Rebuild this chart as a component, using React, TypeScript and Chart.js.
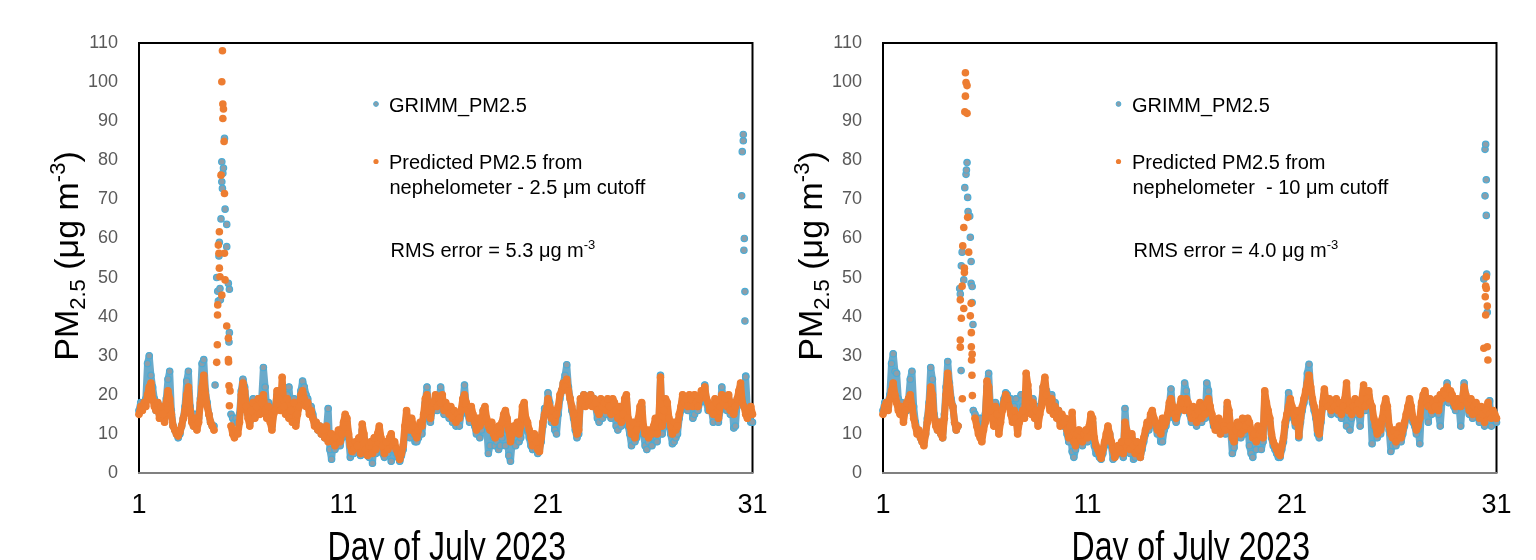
import React, { useEffect, useRef } from 'react';
import { Chart, registerables } from 'chart.js';

Chart.register(...registerables);

const FONT = '"Liberation Sans", Arial, sans-serif';

// ---- axes ----
const xTickValues = [1, 11, 21, 31];
const yTickStep = 10;
const yMax = 110;
// 2-hourly sampling times (day of July), day 1.0 .. 31.0
const sampleDays = Array.from({ length: 361 }, (_, i) => 1 + i / 12);

// ---- GRIMM PM2.5, left panel (2-hourly, null = plume window, see extras) ----
const grimmLeft: (number | null)[] = [
  16, 18, 17, 18, 19, 28, 30, 25, 22, 19, 16, 18,
  15, 17, 16, 14, 19, 24, 26, 16, 12, 11, 10, 9,
  10, 12, 14, 17, 23.5, 26, 17, 14, 12, 15, 12, 14,
  19, 28, 29, 21, 18, 15, 13, 12, 12, null, null, null,
  null, null, null, null, null, null, 15, 14, 13, 14, 13, 15,
  21, 24, 22, 18, 15, 13, 17, 19, 15, 18, 19, 16,
  19, 27, 22, 16, 18, 14, 12, 16, 17, 20, 21, 18,
  20, 18, 16, 20, 22, 17, 14, 19, 13, 16, 18, 21,
  23.5, 22, 20, 19, 16, 17, 15, 13, 12, 11, 12, 10,
  10, 9, 11, 16.5, 6, 3.5, 8, 6, 8, 10, 7, 9,
  12, 14, 13, 9, 4, 5, 5, 7, 6, 8, 4.5, 11,
  9, 5, 6, 4, 7, 2.5, 8, 5, 9, 11, 8, 5,
  4, 7, 5, 8, 3, 6, 7, 5, 4, 3, 4.5, 6,
  10, 14, 12, 9, 12, 10, 8, 8, 9, 11, 10, 14,
  18, 22, 15, 13, 16, 17, 19, 16, 18, 22, 19, 15,
  17, 16, 14, 16, 13, 15, 12, 14, 12, 15, 18, 22.5,
  17, 15, 13, 16, 14, 12, 10, 13, 9, 11, 16, 15,
  12, 5, 7, 11, 9, 7, 8, 6, 7, 9, 12, 7,
  11, 4.5, 3, 8, 10, 7, 11, 8, 9, 13, 16, 12,
  11, 9, 7, 6, 8, 6, 5, 6, 8, 12, 16.5, 15,
  20.5, 18, 13, 15, 11, 10, 15, 19, 21, 23, 25, 27.7,
  22, 19, 16, 14, 11, 9, 10, 18, 19, 20, 18, 19,
  19, 20, 18, 19, 17, 14, 13, 17, 14, 16, 15, 18,
  16, 14, 18, 17, 12, 11, 16, 12, 13, 18, 19, 12,
  10, 7, 11, 8, 9, 12, 16, 17, 10, 7, 6, 8,
  9, 7, 10, 12, 8, 11, 25, 10, 14, 18, 17, 12,
  10, 7.5, 8, 9, 10, 14, 16, 19, 17, 18, 16, 19,
  17, 14, 15, 17, 16, 18, 20, 19, 22.5, 18, 16, 17,
  16, 13, 18, 17, 13, 16, 22, 18, 18, 16, 19, 15,
  17, 11.5, 12, 18, 20, 22, 19, 17, 24.6, 16, 14, 13,
  13,
];
const grimmLeftExtraDays = [4.72, 4.80, 4.85, 4.88, 4.91, 4.93, 4.96, 4.98, 5.01, 5.05, 5.05, 5.08, 5.10, 5.13, 5.18, 5.21, 5.29, 5.29, 5.37, 5.40, 5.42, 5.42, 30.47, 30.50, 30.55, 30.55, 30.58, 30.60, 30.63, 30.63, 30.67];
const grimmLeftExtraValues = [22.5, 50, 46.5, 44, 55.5, 59, 47.2, 44.3, 65, 79.6, 74.5, 72.8, 76.7, 78, 85.6, 67.5, 63.6, 57.9, 48.5, 33.5, 47, 35.9, 70.9, 82.2, 86.6, 85, 57, 60, 46.4, 38.9, 24.8];

// ---- Predicted PM2.5, 2.5 um cutoff (left panel) ----
const predLeft: (number | null)[] = [
  15, 17, 16, 18, 17, 20, 22, 23, 19, 17, 16, 18,
  14, 17, 15, 13, 18, 21, 19, 15, 12, 11, 10, 9.5,
  10.5, 12, 14, 16, 20, 22, 16, 13, 12, 14, 11, 13,
  18, 22, 25, 20, 17, 15, 13, 12, 11, null, null, null,
  null, null, null, null, null, null, 12, 10, 9, 11, 10, 13,
  20, 23, 21, 17, 14, 12, 16, 18, 14, 17, 19, 15,
  18, 20, 16, 14, 17, 13, 11, 15, 16, 21, 19, 16,
  24.5, 17, 15, 19, 14, 16, 13, 18, 12, 15, 17, 20,
  21, 19, 17, 18, 15, 16, 14, 12, 13, 11, 12, 10,
  11, 9, 12, 8, 9, 10, 8, 7, 9, 11, 8, 10,
  13, 15, 14, 10, 7, 5.5, 6, 8, 7, 9, 5, 12.5,
  10, 6, 4.5, 7, 8, 5, 9, 6, 10, 12, 9, 7,
  5, 8, 6, 9, 10, 7, 8, 6, 5, 3.5, 5, 7,
  12, 16, 13, 11, 14, 12, 10, 9, 11, 13, 12, 15,
  19, 20, 16, 14, 17, 18, 20, 17, 19, 18, 20, 16,
  18, 17, 15, 17, 14, 16, 13, 15, 14, 16, 19, 20,
  18, 16, 14, 17, 15, 13, 11, 14, 12, 13, 16, 17,
  14, 12, 11, 13, 10, 9, 11, 12, 10, 13, 15, 16,
  14, 11, 8, 10, 12, 11, 13, 10, 12, 17, 18, 14,
  13, 11, 9, 7, 10, 8, 6, 5.5, 9, 13, 15, 16,
  19, 17, 14, 16, 13, 15, 17, 20, 21, 23, 22, 24,
  21, 19, 17, 15, 12, 10, 11, 19, 18, 20, 17, 19,
  18, 20, 17, 19, 18, 16, 15, 19, 17, 18, 16, 19,
  17, 15, 19, 18, 16, 14, 17, 13, 15, 19, 20, 14,
  12, 10, 13, 9, 11, 14, 17, 18, 12, 10, 11, 9,
  11, 10, 12, 14, 10, 13, 24.5, 12, 16, 19, 18, 14,
  12, 10, 13, 11, 12, 15, 17, 20, 18, 19, 17, 20,
  19, 17, 20, 18, 17, 19, 21, 20, 22, 19, 18, 16,
  17, 15, 19, 18, 14, 17, 20, 18, 19, 17, 20, 16,
  18, 15, 17, 19, 21, 23, 18, 17, 15, 14, 16, 17,
  15,
];
const predLeftExtraDays = [4.80, 4.83, 4.84, 4.85, 4.88, 4.91, 4.93, 4.93, 4.96, 5.01, 5.05, 5.05, 5.08, 5.10, 5.10, 5.13, 5.16, 5.18, 5.18, 5.21, 5.29, 5.37, 5.37, 5.38, 5.40, 5.42, 5.45];
const predLeftExtraValues = [28.3, 32.8, 40.4, 43, 58.3, 56.2, 61.7, 52.4, 50.2, 76.2, 100.1, 45.5, 108, 94.4, 90.7, 93.1, 84.8, 71.5, 56.2, 49.4, 37.6, 34.5, 29, 28.4, 22.3, 17.2, 21];

// ---- GRIMM PM2.5, right panel ----
const grimmRight: (number | null)[] = [
  16, 18, 17, 18, 20, 28, 30.5, 26, 25.5, 19, 16, 18,
  15, 17, 16, 19, 24, 26, 17, 13, 11, 10, 9, 8,
  8, 10, 14, 18, 27, 24, 15, 13, 11, 13, 10, 9,
  15, 22, 28.5, 23, 19, 17, 13, 11, 12, null, null, null,
  null, null, null, null, null, 16, 15, 13, 12, 14, 10, 12,
  15, 22, 25.5, 17, 15, 13, 18, 16, 11, 14, 17, 19,
  20.5, 20, 18, 19, 15, 17, 19, 12, 14, 20, 17, 15,
  20, 21, 18, 16, 19, 15, 17, 13, 16, 18, 22, 20,
  21, 19, 18, 20, 16, 18, 15, 16, 13, 14, 12, 13,
  10, 8, 11, 5.5, 4, 6, 9, 10, 8, 7, 9, 10,
  8, 11, 14, 13, 7, 5, 5, 4, 3.5, 5, 7, 9,
  11, 10, 7, 3.5, 4, 5, 6, 5, 7, 4, 16.5, 10,
  7, 5, 9, 3.5, 4, 7, 5, 4, 6, 8, 10, 12,
  11, 14, 15, 13, 12, 10, 11, 8, 8, 11, 12, 14,
  17, 21.5, 16, 14, 13, 15, 16, 18, 17, 23, 21, 17,
  15, 13, 16, 14, 12, 15, 17, 13, 16, 14, 23, 21,
  16, 14, 12, 12, 11, 13, 12, 12, 11, 10, 17, 15,
  11, 5, 6.5, 10, 12, 11, 9, 13, 10, 11, 13, 7,
  5, 4, 9, 6, 11, 9, 6, 8, 19, 17, 15, 13,
  9, 7, 6, 5, 4, 4, 6, 8, 12, 14, 20.5, 18,
  16, 14, 12, 15, 9, 13, 16, 18, 20, 25.5, 27.8, 21,
  18, 16, 14, 10, 9, 13, 17, 20, 17, 19, 18, 15,
  17, 16, 18, 15, 17, 14, 16, 18, 12, 15, 11, 14,
  16, 18, 15, 17, 12, 18, 21, 16, 18, 20, 17, 7.5,
  12, 11, 9, 12, 10, 13, 16, 18, 16, 11, 5.5, 7,
  10, 7, 9, 11, 8, 10, 12, 14, 16, 18, 16, 13,
  12, 10, 11, 7.5, 17, 19, 20, 17, 13, 18, 15, 17,
  16, 18, 15, 12, 18, 20, 19, 23, 18, 20, 19, 17,
  16, 18, 17, 12, 18, 23, 19, 17, 15, 18, 14, 16,
  17, 15, 13, 16, 14, 12, 15, 17, 18.5, 12, 15, 14,
  13,
];
const grimmRightExtraDays = [4.75, 4.78, 4.82, 4.83, 4.87, 4.95, 5.00, 5.06, 5.08, 5.11, 5.14, 5.16, 5.24, 5.27, 5.31, 5.31, 5.36, 5.36, 5.40, 30.38, 30.44, 30.44, 30.47, 30.50, 30.50, 30.52, 30.55];
const grimmRightExtraValues = [47.2, 45.8, 26.2, 53, 56.5, 49.4, 73, 76.4, 77.5, 79.4, 70.5, 66.9, 65.7, 60.3, 54.1, 48.5, 47.7, 43.6, 38, 49.6, 82.8, 70.9, 84.1, 75, 65.9, 50.9, 41.1];

// ---- Predicted PM2.5, 10 um cutoff (right panel) ----
const predRight: (number | null)[] = [
  15, 17, 18, 16, 19, 21, 23, 20, 18, 16, 15, 17,
  13, 16, 18, 19, 20, 17, 14, 12, 10, 11, 9, 8,
  7, 10, 13, 17, 22, 20, 14, 12, 11, 13, 10, 9,
  14, 20, 25.5, 22, 18, 17, 13, 11, 12, null, null, null,
  null, null, null, null, null, null, 14, 12, 10, 9, 8, 11,
  13, 23.5, 22, 16, 14, 12, 17, 15, 10, 13, 16, 18,
  20, 19, 17, 15, 13, 16, 14, 10, 13, 15, 16, 14,
  25.5, 22.5, 17, 15, 18, 14, 16, 12, 15, 17, 22, 24.5,
  20, 18, 16, 19, 15, 17, 14, 16, 12, 15, 13, 14,
  11, 9, 12, 15.5, 8, 7, 10, 11, 9, 8, 10, 11,
  9, 12, 15, 14, 9, 7, 6, 5, 3.8, 6, 8, 10,
  12, 10, 8, 6, 4, 5, 7, 6, 8, 5, 13, 11,
  8, 6, 10, 7, 5, 8, 6, 4, 7, 9, 11, 13,
  12, 15, 16, 14, 13, 11, 12, 10, 14, 12, 13, 15,
  18, 19, 17, 15, 14, 16, 17, 19, 18, 16, 19, 18,
  16, 14, 17, 15, 13, 16, 18, 14, 17, 15, 18, 19,
  17, 15, 13, 11, 12, 14, 10, 13, 12, 11, 18, 16,
  12, 9, 8, 11, 13, 12, 10, 14, 11, 12, 14, 13,
  11, 9, 10, 8, 12, 10, 11, 9, 21, 18, 16, 14,
  10, 8, 7, 6, 5, 4.5, 7, 9, 13, 15, 17, 19,
  17, 15, 13, 16, 9.5, 14, 17, 19, 21, 23, 25, 22,
  19, 17, 15, 11, 10, 14, 18, 21.5, 18, 17, 19, 16,
  18, 17, 19, 16, 18, 15, 17, 19, 23, 16, 18, 15,
  17, 19, 16, 18, 15, 19, 22.5, 17, 19, 21, 18, 17,
  14, 12, 10, 13, 11, 14, 17, 19, 17, 12, 10, 9,
  11, 8, 10, 12, 9, 11, 13, 15, 17, 19, 17, 14,
  13, 11, 12, 14, 18, 20, 21, 18, 17, 19, 16, 18,
  17, 19, 16, 20, 19, 21, 20, 22, 19, 21, 20, 18,
  17, 19, 18, 17, 19, 22, 20, 18, 16, 19, 15, 17,
  18, 16, 14, 17, 15, 13, 16, 18, 15, 14, 16, 15,
  14,
];
const predRightExtraDays = [4.78, 4.78, 4.78, 4.83, 4.87, 4.88, 4.90, 4.95, 4.95, 4.98, 4.98, 5.00, 5.03, 5.03, 5.06, 5.11, 5.11, 5.14, 5.19, 5.27, 5.31, 5.32, 5.32, 5.33, 5.35, 5.36, 5.37, 30.38, 30.45, 30.47, 30.47, 30.50, 30.50, 30.55, 30.55, 30.58];
const predRightExtraValues = [44.3, 34, 32.2, 39.6, 47.8, 19, 58.1, 62.8, 42.1, 52.4, 51.3, 92.4, 102.4, 96.4, 99.9, 99.1, 92, 65.4, 56.5, 40.2, 43.4, 35.9, 32.3, 28.9, 25, 30.4, 19.8, 31.9, 45.1, 47.8, 40.4, 50.2, 47.2, 42.7, 32.3, 28.9];

// ---- texts ----
const grimmLabel = 'GRIMM_PM2.5';
const predLabelLeft = ['Predicted PM2.5 from', 'nephelometer - 2.5 \u03bcm cutoff'];
const predLabelRight = ['Predicted PM2.5 from', 'nephelometer  - 10 \u03bcm cutoff'];
const rmsLeft = '5.3';
const rmsRight = '4.0';
const xTitle = 'Day of July 2023';

const ORANGE = '#ED7D31';
const BLUE_EDGE = '#4BACD6';
const BLUE_FILL = '#8E9EA8';
const BLUE_BAND = '#6AAACA';

type Pt = { x: number; y: number | null };
function basePoints(base: (number | null)[]): Pt[] {
  return base.map((v, i) => ({ x: sampleDays[i], y: v }));
}
function extraPoints(days: number[], values: number[]): Pt[] {
  return days.map((d, i) => ({ x: d, y: values[i] }));
}

type Seg = { t: string; size: number; dy: number };
function drawSegs(ctx: CanvasRenderingContext2D, segs: Seg[], x: number, y: number, center: boolean) {
  const widths = segs.map((s) => {
    ctx.font = `${s.size}px ${FONT}`;
    return ctx.measureText(s.t).width;
  });
  const total = widths.reduce((a, b) => a + b, 0);
  let cx = center ? x - total / 2 : x;
  ctx.textAlign = 'left';
  ctx.textBaseline = 'alphabetic';
  segs.forEach((s, i) => {
    ctx.font = `${s.size}px ${FONT}`;
    ctx.fillText(s.t, cx, y + s.dy);
    cx += widths[i];
  });
}

type PanelCfg = {
  left: number;
  grimm: (number | null)[];
  grimmExtraDays: number[];
  grimmExtraValues: number[];
  pred: (number | null)[];
  predExtraDays: number[];
  predExtraValues: number[];
  predLabel: string[];
  rms: string;
  dotX: number;
  textX: number;
};

const panels: PanelCfg[] = [
  {
    left: 0,
    grimm: grimmLeft,
    grimmExtraDays: grimmLeftExtraDays,
    grimmExtraValues: grimmLeftExtraValues,
    pred: predLeft,
    predExtraDays: predLeftExtraDays,
    predExtraValues: predLeftExtraValues,
    predLabel: predLabelLeft,
    rms: rmsLeft,
    dotX: 376,
    textX: 389,
  },
  {
    left: 744,
    grimm: grimmRight,
    grimmExtraDays: grimmRightExtraDays,
    grimmExtraValues: grimmRightExtraValues,
    pred: predRight,
    predExtraDays: predRightExtraDays,
    predExtraValues: predRightExtraValues,
    predLabel: predLabelRight,
    rms: rmsRight,
    dotX: 374.5,
    textX: 388,
  },
];

function makeDecor(cfg: PanelCfg) {
  return {
    id: 'decor',
    beforeDatasetsDraw(chart: any) {
      const { ctx, chartArea: a } = chart;
      ctx.save();
      ctx.lineWidth = 2;
      ctx.strokeStyle = '#000';
      ctx.beginPath();
      ctx.moveTo(a.left, a.bottom);
      ctx.lineTo(a.left, a.top);
      ctx.lineTo(a.right, a.top);
      ctx.lineTo(a.right, a.bottom);
      ctx.stroke();
      ctx.strokeStyle = '#808080';
      ctx.beginPath();
      ctx.moveTo(a.left - 1, a.bottom);
      ctx.lineTo(a.right + 1, a.bottom);
      ctx.stroke();
      ctx.restore();
    },
    afterDraw(chart: any) {
      const { ctx, chartArea: a } = chart;
      ctx.save();
      ctx.fillStyle = '#000';
      // y title (rotated)
      ctx.save();
      ctx.translate(78, (a.top + a.bottom) / 2 - 2);
      ctx.rotate(-Math.PI / 2);
      drawSegs(
        ctx,
        [
          { t: 'PM', size: 34, dy: 0 },
          { t: '2.5', size: 22, dy: 7 },
          { t: ' (\u03bcg m', size: 34, dy: 0 },
          { t: '-3', size: 22, dy: -13 },
          { t: ')', size: 34, dy: 0 },
        ],
        0,
        0,
        true
      );
      ctx.restore();
      // x title (narrow)
      ctx.save();
      ctx.translate((a.left + a.right) / 2 + 1, 560);
      ctx.scale(0.8, 1);
      ctx.font = `40px ${FONT}`;
      ctx.textAlign = 'center';
      ctx.textBaseline = 'alphabetic';
      ctx.fillText(xTitle, 0, 0);
      ctx.restore();
      // legend
      ctx.beginPath();
      ctx.arc(cfg.dotX, 104, 2.4, 0, Math.PI * 2);
      ctx.fillStyle = BLUE_FILL;
      ctx.fill();
      ctx.lineWidth = 1;
      ctx.strokeStyle = BLUE_EDGE;
      ctx.stroke();
      ctx.beginPath();
      ctx.arc(cfg.dotX, 161.5, 2.6, 0, Math.PI * 2);
      ctx.fillStyle = ORANGE;
      ctx.fill();
      ctx.fillStyle = '#000';
      ctx.font = `20px ${FONT}`;
      ctx.textAlign = 'left';
      ctx.textBaseline = 'alphabetic';
      ctx.fillText(grimmLabel, cfg.textX, 111.5);
      ctx.fillText(cfg.predLabel[0], cfg.textX, 168.5);
      ctx.fillText(cfg.predLabel[1], cfg.textX + 0.5, 193.5);
      drawSegs(
        ctx,
        [
          { t: `RMS error = ${cfg.rms} \u03bcg m`, size: 20, dy: 0 },
          { t: '-3', size: 13, dy: -8 },
        ],
        cfg.textX + 1.5,
        256.5,
        false
      );
      ctx.restore();
    },
  };
}

function Panel({ cfg }: { cfg: PanelCfg }) {
  const ref = useRef<HTMLCanvasElement | null>(null);
  useEffect(() => {
    if (!ref.current) return;
    const lineStyle = {
      showLine: true,
      spanGaps: false,
      borderJoinStyle: 'round',
      borderCapStyle: 'round',
      clip: false,
    };
    const chart = new Chart(ref.current, {
      type: 'scatter',
      data: {
        datasets: [
          {
            label: 'Predicted',
            data: basePoints(cfg.pred),
            backgroundColor: ORANGE,
            borderColor: ORANGE,
            borderWidth: 7,
            pointBorderWidth: 0,
            pointRadius: 3.8,
            order: 0,
            ...lineStyle,
          },
          {
            label: 'Predicted plume',
            data: extraPoints(cfg.predExtraDays, cfg.predExtraValues),
            backgroundColor: ORANGE,
            borderColor: ORANGE,
            borderWidth: 0,
            pointRadius: 3.8,
            order: 0,
            clip: false,
          },
          {
            label: grimmLabel,
            data: basePoints(cfg.grimm),
            backgroundColor: BLUE_FILL,
            borderColor: BLUE_BAND,
            borderWidth: 7,
            pointBorderColor: BLUE_EDGE,
            pointBorderWidth: 1.2,
            pointRadius: 3.2,
            order: 1,
            ...lineStyle,
          },
          {
            label: 'GRIMM plume',
            data: extraPoints(cfg.grimmExtraDays, cfg.grimmExtraValues),
            backgroundColor: BLUE_FILL,
            borderColor: BLUE_EDGE,
            borderWidth: 1.2,
            pointRadius: 3.2,
            order: 1,
            clip: false,
          },
        ],
      },
      options: {
        responsive: false,
        animation: false,
        events: [],
        layout: { padding: { top: 43, right: 15.5, left: 0, bottom: 0 } },
        plugins: { legend: { display: false }, tooltip: { enabled: false } },
        scales: {
          x: {
            type: 'linear',
            min: 1,
            max: 31,
            afterBuildTicks: (s: any) => {
              s.ticks = xTickValues.map((v) => ({ value: v }));
            },
            grid: { display: false, drawTicks: false },
            border: { display: false },
            ticks: {
              color: '#000',
              font: { size: 27, family: FONT },
              padding: 16,
              maxRotation: 0,
              autoSkip: false,
            },
            afterFit: (s: any) => {
              s.height = 87;
              s.paddingLeft = 0;
              s.paddingRight = 0;
            },
          },
          y: {
            type: 'linear',
            min: 0,
            max: yMax,
            ticks: {
              stepSize: yTickStep,
              color: '#595959',
              font: { size: 18, family: FONT },
              padding: 21,
            },
            grid: { display: false, drawTicks: false },
            border: { display: false },
            afterFit: (s: any) => {
              s.width = 139;
              s.paddingTop = 0;
              s.paddingBottom = 0;
            },
          },
        },
      },
      plugins: [makeDecor(cfg)],
    } as any);
    return () => chart.destroy();
  }, [cfg]);
  return (
    <canvas
      ref={ref}
      width={768}
      height={560}
      style={{ position: 'absolute', left: cfg.left, top: 0, width: 768, height: 560 }}
    />
  );
}

export default function App() {
  return (
    <div style={{ position: 'absolute', left: 0, top: 0, width: 1536, height: 560, background: '#fff', overflow: 'hidden' }}>
      {panels.map((p, i) => (
        <Panel key={i} cfg={p} />
      ))}
    </div>
  );
}
